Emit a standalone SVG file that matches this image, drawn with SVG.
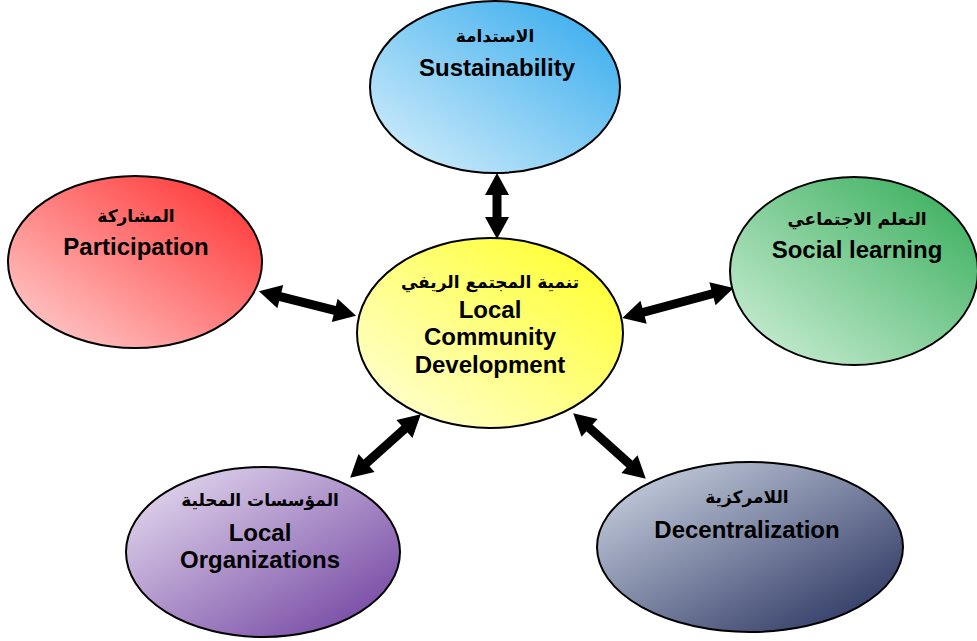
<svg xmlns="http://www.w3.org/2000/svg" width="977" height="641" viewBox="0 0 977 641">
<style>
.node ellipse{stroke:#000;stroke-width:2}
.en{font-family:"Liberation Sans",Arial,sans-serif;font-weight:bold;font-size:24px;fill:#000;text-anchor:middle}
.ar{font-family:"DejaVu Sans","Liberation Sans",sans-serif;font-weight:bold;font-size:17px;fill:#000;text-anchor:middle}
.conn line{stroke:#000;stroke-width:9;marker-start:url(#ah);marker-end:url(#ah)}
</style>
<defs>
<marker id="ah" markerUnits="userSpaceOnUse" markerWidth="24" markerHeight="24" refX="1" refY="12" orient="auto-start-reverse" overflow="visible">
<path d="M0,0 L22,12 L0,24 z" fill="#000"/>
</marker>
<linearGradient id="gBlue" x1="0" y1="1" x2="1" y2="0"><stop offset="0" stop-color="#dbf1fc"/><stop offset="1" stop-color="#2ea8ec"/></linearGradient>
<linearGradient id="gRed" x1="0" y1="1" x2="1" y2="0"><stop offset="0" stop-color="#ffd6d6"/><stop offset="1" stop-color="#ff2a2a"/></linearGradient>
<linearGradient id="gGreen" x1="0" y1="1" x2="1" y2="0"><stop offset="0" stop-color="#d4f2dc"/><stop offset="1" stop-color="#30aa55"/></linearGradient>
<linearGradient id="gYellow" x1="0" y1="1" x2="1" y2="0"><stop offset="0" stop-color="#ffffe0"/><stop offset="1" stop-color="#ffff20"/></linearGradient>
<linearGradient id="gPurple" x1="0" y1="0" x2="1" y2="1"><stop offset="0" stop-color="#ece4f4"/><stop offset="1" stop-color="#6a3a9c"/></linearGradient>
<linearGradient id="gNavy" x1="0" y1="0" x2="1" y2="1"><stop offset="0" stop-color="#d4dbe8"/><stop offset="1" stop-color="#1f2a58"/></linearGradient>
</defs>
<g id="connectors" class="conn">
<line x1="497" y1="194" x2="497" y2="218"/>
<line x1="279.3" y1="296.4" x2="335.7" y2="310.6"/>
<line x1="642.6" y1="312.5" x2="713.4" y2="293.5"/>
<line x1="365.8" y1="463.7" x2="405.2" y2="428.3"/>
<line x1="588.8" y1="427.3" x2="630.2" y2="464.7"/>
</g>
<g id="sustainability" class="node">
<ellipse cx="495" cy="87" rx="125" ry="86" fill="url(#gBlue)"/>
<text class="ar" x="495" y="42">الاستدامة</text>
<text class="en" x="497" y="76">Sustainability</text>
</g>
<g id="participation" class="node">
<ellipse cx="135" cy="262" rx="127" ry="86" fill="url(#gRed)"/>
<text class="ar" x="136" y="222">المشاركة</text>
<text class="en" x="136" y="255">Participation</text>
</g>
<g id="social-learning" class="node">
<ellipse cx="854" cy="271" rx="124" ry="94" fill="url(#gGreen)"/>
<text class="ar" x="857" y="225">التعلم الاجتماعي</text>
<text class="en" x="857" y="258">Social learning</text>
</g>
<g id="center" class="node">
<ellipse cx="490" cy="333" rx="133" ry="95" fill="url(#gYellow)"/>
<text class="ar" x="490" y="288">تنمية المجتمع الريفي</text>
<text class="en" x="490" y="318">Local</text>
<text class="en" x="490" y="345">Community</text>
<text class="en" x="490" y="373">Development</text>
</g>
<g id="local-organizations" class="node">
<ellipse cx="263" cy="552" rx="137" ry="85" fill="url(#gPurple)"/>
<text class="ar" x="260" y="506">المؤسسات المحلية</text>
<text class="en" x="260" y="541">Local</text>
<text class="en" x="260" y="568">Organizations</text>
</g>
<g id="decentralization" class="node">
<ellipse cx="750" cy="547" rx="153" ry="85" fill="url(#gNavy)"/>
<text class="ar" x="747" y="503">اللامركزية</text>
<text class="en" x="747" y="538">Decentralization</text>
</g>
</svg>
